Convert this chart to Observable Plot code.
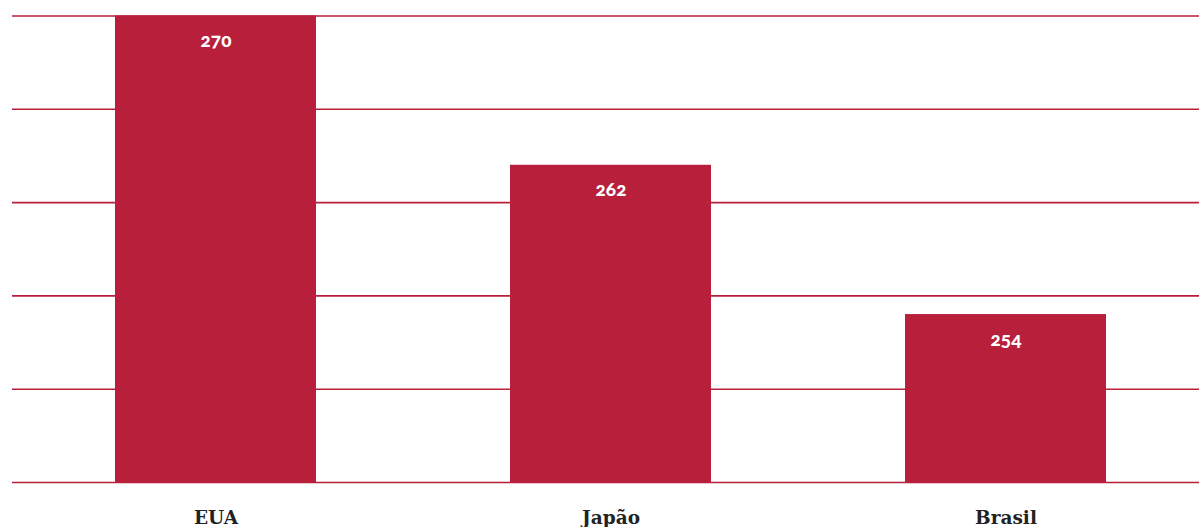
<!DOCTYPE html>
<html>
<head>
<meta charset="utf-8">
<script src="https://cdn.jsdelivr.net/npm/d3@7"></script>
<script src="https://cdn.jsdelivr.net/npm/@observablehq/plot@0.6"></script>
<style>
  html, body { margin: 0; padding: 0; background: #fff; }
  #chart svg { display: block; }
  .xlab text { font-family: "DejaVu Serif", serif; font-weight: bold; }
  .vlab text { font-family: "Lato", "Open Sans", sans-serif; font-weight: 900; font-variant-numeric: oldstyle-nums; font-feature-settings: "onum" 1; }
</style>
</head>
<body>
<div id="chart"></div>
<script>
const countries = ["EUA", "Japão", "Brasil"];
const values = [270, 262, 254];
const gridTicks = [245, 250, 255, 260, 265, 270];
const baseValue = 245;

const data = countries.map((c, i) => ({country: c, value: values[i]}));
const red = "#b81f3a";

const chart = Plot.plot({
  width: 1199,
  height: 527,
  marginLeft: 12,
  marginRight: 0,
  marginTop: 15.5,
  marginBottom: 45,
  x: {domain: countries, range: [16.7, 1203.2], paddingInner: 0.492, paddingOuter: 0.246, label: null},
  y: {domain: [baseValue, 270], label: null, axis: null},
  marks: [
    Plot.ruleY(gridTicks, {stroke: red, strokeWidth: 1.6}),
    Plot.barY(data, {x: "country", y1: baseValue, y2: "value", fill: red}),
    Plot.text(data, {x: "country", y: "value", text: d => String(d.value), dy: 25, fill: "white", fontSize: 19, className: "vlab"}),
    Plot.axisX({tickSize: 0, tickPadding: 28, fontSize: 18.5, fill: "#222", className: "xlab"})
  ]
});
document.getElementById("chart").appendChild(chart);
</script>
</body>
</html>
